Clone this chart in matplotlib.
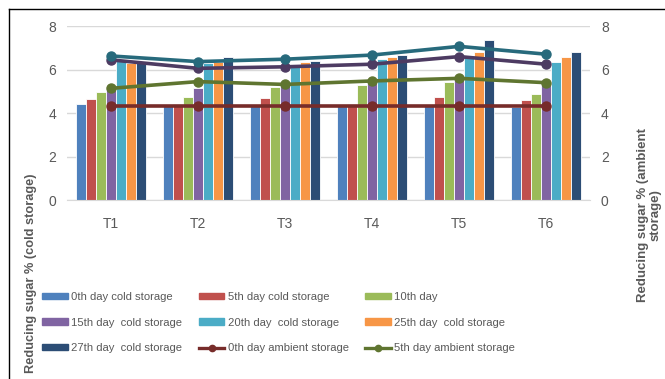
import numpy as np
import matplotlib.pyplot as plt
from matplotlib.lines import Line2D
from matplotlib.patches import Patch

plt.rcParams['font.family'] = ['Liberation Sans', 'DejaVu Sans']

treatments = ['T1', 'T2', 'T3', 'T4', 'T5', 'T6']

# cold storage (bars, left axis)
cold_labels = ['0th day cold storage', '5th day cold storage', '10th day',
               '15th day  cold storage', '20th day  cold storage',
               '25th day  cold storage', '27th day  cold storage']
cold_0 = [4.40, 4.35, 4.35, 4.35, 4.35, 4.30]
cold_5 = [4.63, 4.40, 4.68, 4.40, 4.74, 4.60]
cold_10 = [4.99, 4.75, 5.20, 5.28, 5.43, 4.90]
cold_15 = [5.20, 5.14, 5.35, 5.45, 5.60, 5.40]
cold_20 = [6.40, 6.30, 6.20, 6.51, 6.60, 6.37]
cold_25 = [6.30, 6.33, 6.36, 6.56, 6.79, 6.59]
cold_27 = [6.30, 6.57, 6.40, 6.67, 7.38, 6.79]

# ambient storage (lines, right axis)
amb_labels = ['0th day ambient storage', '5th day ambient storage',
              '10th day ambient storage', '15th day ambient storage']
amb_0 = [4.35, 4.35, 4.35, 4.35, 4.35, 4.35]
amb_5 = [5.14, 5.45, 5.32, 5.48, 5.60, 5.40]
amb_10 = [6.45, 6.06, 6.13, 6.25, 6.60, 6.25]
amb_15 = [6.63, 6.37, 6.48, 6.67, 7.07, 6.71]

bar_colors = ['#4F81BD', '#C0504D', '#9BBB59', '#8064A2', '#4BACC6', '#F79646', '#2C4D75']
line_colors = ['#772C2A', '#5F7530', '#4D3B62', '#276A7C']
grey = '#595959'

fig = plt.figure(figsize=(6.65, 3.79), dpi=100)
ax = fig.add_axes([0.101, 0.472, 0.786, 0.459])
ax2 = ax.twinx()

x = np.arange(len(treatments))
cold = [cold_0, cold_5, cold_10, cold_15, cold_20, cold_25, cold_27]
n = len(cold)
w = 0.8 / n
handles = []
for i, vals in enumerate(cold):
    ax.bar(x - 0.4 + w * (i + 0.5), vals, width=w, color=bar_colors[i],
           edgecolor='white', linewidth=0.6, zorder=2)
    handles.append(Patch(color=bar_colors[i], label=cold_labels[i]))

amb = [amb_0, amb_5, amb_10, amb_15]
for i, vals in enumerate(amb):
    ax2.plot(x, vals, color=line_colors[i], lw=2.6, marker='o', ms=6.5, zorder=3)
for i in range(2):
    handles.append(Line2D([], [], color=line_colors[i], lw=2.4, marker='o', ms=4.5,
                          label=amb_labels[i]))

for a in (ax, ax2):
    a.set_ylim(0, 8)
    a.set_yticks([0, 2, 4, 6, 8])
    a.tick_params(length=0, labelsize=10, labelcolor=grey, pad=8)
    for s in a.spines.values():
        s.set_visible(False)
ax.spines['bottom'].set_visible(True)
ax.spines['bottom'].set_color('#D9D9D9')
ax.set_xlim(-0.5, 5.5)
ax.set_xticks(x)
ax.set_xticklabels(treatments)
ax.tick_params(axis='x', pad=12)
ax.grid(axis='y', color='#D9D9D9', lw=1, zorder=0)
ax.set_axisbelow(True)
ax2.set_zorder(ax.get_zorder() + 1)
ax2.patch.set_visible(False)

fig.text(0.046, 0.28, 'Reducing sugar % (cold storage)', rotation=90, ha='center',
         va='center', fontsize=9.2, fontweight='bold', color=grey)
fig.text(0.976, 0.433, 'Reducing sugar % (ambient\nstorage)', rotation=90, ha='center',
         va='center', fontsize=9.5, fontweight='bold', color=grey, linespacing=1.1)

# legend fills column by column, so reorder to read row by row
order = [0, 3, 6, 1, 4, 7, 2, 5, 8]
fig.legend([handles[k] for k in order], [handles[k].get_label() for k in order],
           ncol=3, loc='upper left', bbox_to_anchor=(0.048, 0.256), frameon=False,
           fontsize=8.1, labelcolor=grey, handlelength=2.3, handleheight=0.5,
           handletextpad=0.3, columnspacing=1.45, labelspacing=1.38)

# outer frame of the figure (left and top edges)
fig.add_artist(Line2D([0.014, 0.014], [0, 0.977], color='black', lw=1))
fig.add_artist(Line2D([0.014, 1.0], [0.977, 0.977], color='black', lw=1))

fig.savefig('out.png', dpi=100)
